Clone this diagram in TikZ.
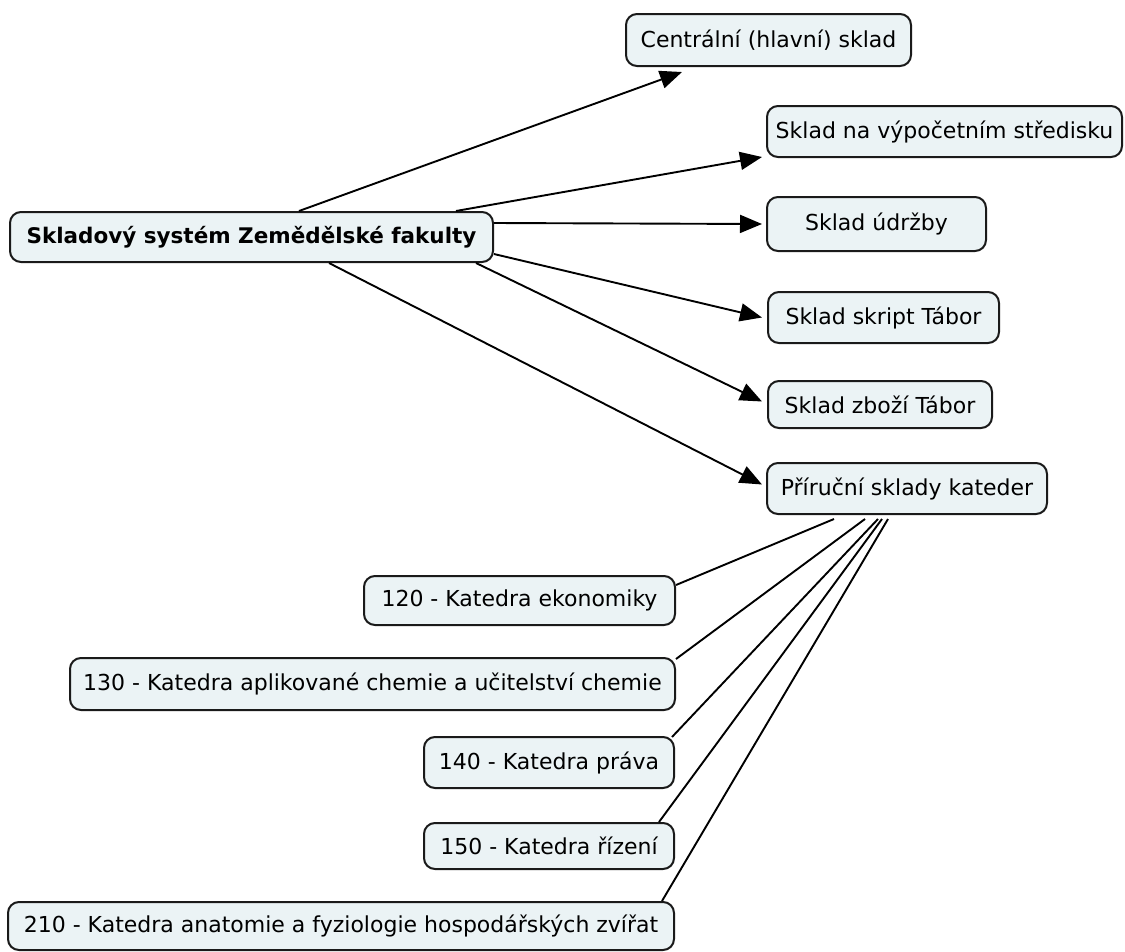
\documentclass[tikz,border=0pt]{standalone}
\usepackage{fontspec}
\setmainfont{DejaVu Sans}
\usetikzlibrary{arrows.meta,calc}
\definecolor{boxfill}{HTML}{EBF3F5}
\definecolor{boxline}{HTML}{1A1A1A}
\tikzset{
  concept/.style={draw=boxline, line width=2pt, fill=boxfill,
    rounded corners=11pt, inner sep=0pt, align=center,
    font=\fontsize{22}{26}\selectfont},
  link/.style={line width=1.9pt, draw=black},
  arr/.style={link, -{Triangle[length=22pt,width=18pt]}}
}
\begin{document}
\begin{tikzpicture}[x=1pt,y=-1pt]
\useasboundingbox (0,0) rectangle (1125,951);

% root concept
\node[concept, minimum width=483pt, minimum height=50pt,
      font=\fontsize{21.5}{25}\selectfont\bfseries] (c) at (251.5,237)
      {Skladový systém Zemědělské fakulty};

% warehouses
\node[concept, minimum width=285pt, minimum height=52pt] (cen) at (768.5,40) {Centrální (hlavní) sklad};
\node[concept, minimum width=355pt, minimum height=51pt] (vyp) at (944.5,131.5) {Sklad na výpočetním středisku};
\node[concept, minimum width=219pt, minimum height=54pt] (udr) at (876.5,224) {Sklad údržby};
\node[concept, minimum width=231pt, minimum height=51pt] (skr) at (883.5,317.5) {Sklad skript Tábor};
\node[concept, minimum width=224pt, minimum height=47pt] (zbo) at (880,404.5) {Sklad zboží Tábor};
\node[concept, minimum width=280pt, minimum height=51pt] (pri) at (907,488.5) {Příruční sklady kateder};

% departments
\node[concept, minimum width=311pt, minimum height=49pt] (k120) at (519.5,600.5) {120 - Katedra ekonomiky};
\node[concept, minimum width=605pt, minimum height=52pt] (k130) at (372.5,684) {130 - Katedra aplikované chemie a učitelství chemie};
\node[concept, minimum width=250pt, minimum height=51pt] (k140) at (549,762.5) {140 - Katedra práva};
\node[concept, minimum width=250pt, minimum height=46pt] (k150) at (549,846) {150 - Katedra řízení};
\node[concept, minimum width=666pt, minimum height=48pt] (k210) at (341,926) {210 - Katedra anatomie a fyziologie hospodářských zvířat};

% arrows from the root
\draw[arr] ($(c.north west)+(290,0)$) -- ($(cen.south west)+(57,5)$);
\draw[arr] ($(c.north west)+(447,0)$) -- ($(vyp.south west)+(-4,-1)$);
\draw[arr] ($(c.north east)+(0,12)$) -- ($(udr.west)+(-4,0)$);
\draw[arr] ($(c.south east)+(0,-9)$) -- ($(skr.west)+(-5,0)$);
\draw[arr] ($(c.south east)+(-18,0)$) -- ($(zbo.west)+(-5,-3)$);
\draw[arr] ($(c.south west)+(320,0)$) -- ($(pri.west)+(-4,-4)$);

% plain links to the departments
\draw[link] ($(pri.south west)+(68,4)$) -- ($(k120.north east)+(0,10)$);
\draw[link] ($(pri.south west)+(99,4)$) -- ($(k130.north east)+(0,2)$);
\draw[link] ($(pri.south west)+(112,4)$) -- ($(k140.north east)+(-3,1)$);
\draw[link] ($(pri.south west)+(116,4)$) -- ($(k150.north east)+(-16,0)$);
\draw[link] ($(pri.south west)+(122,4)$) -- ($(k210.north east)+(-13,0)$);
\end{tikzpicture}
\end{document}
